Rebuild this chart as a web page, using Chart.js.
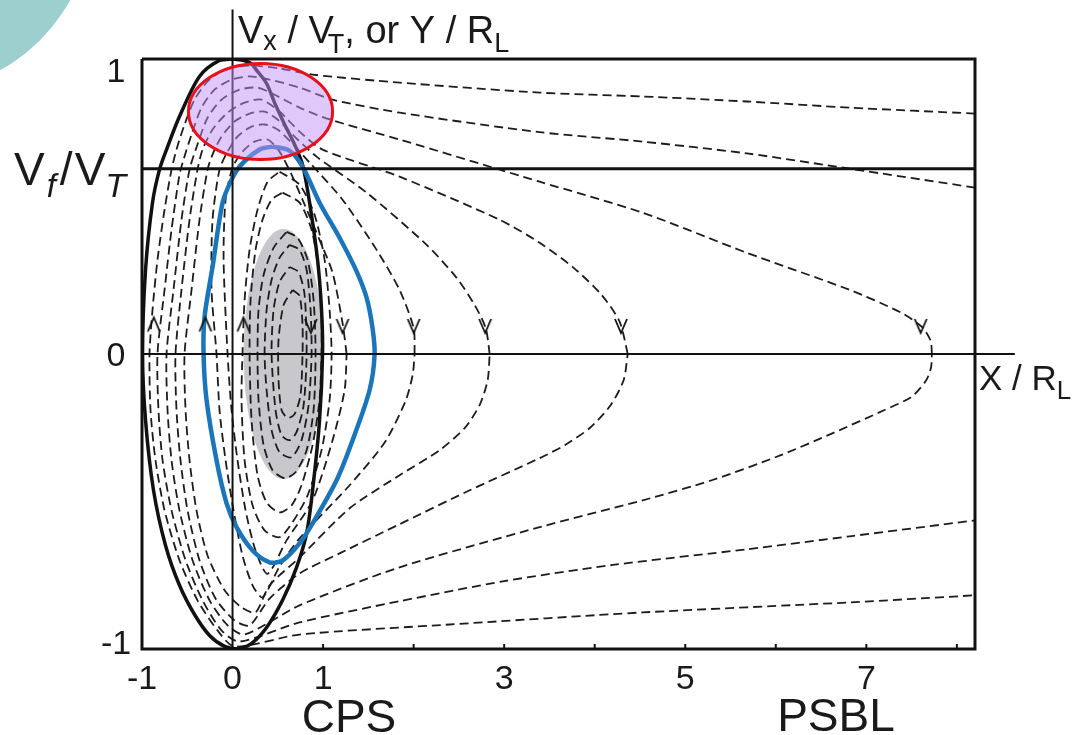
<!DOCTYPE html>
<html>
<head>
<meta charset="utf-8">
<script src="https://cdn.jsdelivr.net/npm/chart.js@4.4.0/dist/chart.umd.min.js"></script>
<style>
  html, body { margin: 0; padding: 0; background: #fff; }
  #wrap { width: 1080px; height: 735px; position: relative; }
</style>
</head>
<body>
<div id="wrap"><canvas id="orbits"></canvas></div>
<script>
// axis ranges: X / RL across, Vx / VT (or Y / RL) up
const xMin = -1, xMax = 8.2;
const yMin = -1, yMax = 1;
const vfLevel = 0.628;

const xTicks = [-1, 0, 1, 3, 5, 7];
const xMinorTicks = [1, 2, 3, 4, 5, 6, 7, 8];
const yTicks = [1, 0, -1];

// boundary of the CPS orbits
const blackCurve = [
  [0.022, 1.0], [0.188, 0.988], [0.276, 0.958], [0.376, 0.917], [0.464, 0.852], [0.575, 0.778],
  [0.685, 0.71], [0.773, 0.642], [0.851, 0.513], [0.939, 0.319], [0.983, 0.149], [0.994, 0],
  [0.961, -0.224], [0.884, -0.462], [0.818, -0.608], [0.707, -0.723], [0.552, -0.835],
  [0.376, -0.927], [0.21, -0.981], [0.055, -1.0], [-0.088, -0.991], [-0.254, -0.954],
  [-0.42, -0.883], [-0.586, -0.784], [-0.74, -0.649], [-0.873, -0.462], [-0.961, -0.224],
  [-0.994, 0], [-0.961, 0.285], [-0.884, 0.513], [-0.807, 0.625], [-0.729, 0.693],
  [-0.586, 0.805], [-0.365, 0.941], [-0.144, 0.995], [0.022, 1.0]
];

const blueCurve = [
  [0.442, 0.703], [0.63, 0.689], [0.773, 0.635], [0.961, 0.513], [1.182, 0.394], [1.37, 0.28],
  [1.481, 0.19], [1.545, 0.09], [1.569, 0], [1.514, -0.122], [1.326, -0.292], [1.149, -0.428],
  [0.884, -0.574], [0.74, -0.642], [0.552, -0.7], [0.409, -0.706], [0.221, -0.666],
  [0.044, -0.587], [-0.066, -0.506], [-0.177, -0.36], [-0.287, -0.156], [-0.32, 0],
  [-0.309, 0.126], [-0.221, 0.295], [-0.11, 0.513], [-0.011, 0.591], [0.077, 0.635],
  [0.188, 0.669], [0.32, 0.696], [0.442, 0.703]
];

// orbits leaving through the right edge (PSBL side)
const orbitA = [
  [8.2, 0.815], [6.818, 0.835], [5.68, 0.856], [4.53, 0.873], [3.392, 0.886], [1.845, 0.92],
  [0.884, 0.947], [0.519, 0.968], [0.188, 0.978], [-0.088, 0.964], [-0.276, 0.924],
  [-0.42, 0.862], [-0.53, 0.778], [-0.619, 0.693], [-0.674, 0.625], [-0.751, 0.489],
  [-0.829, 0.319], [-0.884, 0.149], [-0.917, 0], [-0.906, -0.19], [-0.851, -0.36],
  [-0.751, -0.53], [-0.586, -0.699], [-0.387, -0.835], [-0.166, -0.937], [0.022, -0.992],
  [0.74, -0.951], [2.398, -0.917], [4.53, -0.876], [6.818, -0.842], [8.2, -0.818]
];
const orbitB = [
  [8.2, 0.564], [6.818, 0.628], [5.68, 0.68], [4.53, 0.72], [3.392, 0.752], [1.845, 0.818],
  [1.105, 0.862], [0.74, 0.903], [0.409, 0.93], [0.188, 0.941], [-0.011, 0.93], [-0.199, 0.896],
  [-0.343, 0.835], [-0.453, 0.744], [-0.541, 0.659], [-0.586, 0.608], [-0.674, 0.421],
  [-0.751, 0.217], [-0.829, 0], [-0.818, -0.19], [-0.773, -0.36], [-0.674, -0.53],
  [-0.519, -0.699], [-0.331, -0.835], [-0.122, -0.937], [0.077, -0.975], [0.74, -0.91],
  [1.845, -0.838], [3.0, -0.77], [4.2, -0.715], [5.68, -0.662], [6.818, -0.618], [8.2, -0.564]
];

// closed orbits turning at X = 7.7, 4.4, 2.8, 2.0, 1.3
const orbitC = [
  [7.724, 0], [7.71, 0.045], [7.62, 0.09], [7.392, 0.139], [6.818, 0.217], [5.68, 0.343],
  [4.53, 0.479], [3.392, 0.584], [1.845, 0.727], [1.072, 0.795], [0.74, 0.835], [0.464, 0.879],
  [0.276, 0.903], [0.077, 0.896], [-0.122, 0.862], [-0.276, 0.801], [-0.387, 0.71],
  [-0.475, 0.625], [-0.564, 0.455], [-0.652, 0.217], [-0.729, 0], [-0.718, -0.19],
  [-0.674, -0.36], [-0.586, -0.53], [-0.442, -0.699], [-0.254, -0.835], [-0.055, -0.92],
  [0.133, -0.951], [0.74, -0.852], [1.845, -0.723], [3.392, -0.587], [4.53, -0.496],
  [5.293, -0.428], [6.055, -0.343], [6.63, -0.268], [7.2, -0.19], [7.5, -0.145],
  [7.66, -0.09], [7.715, -0.045], [7.724, 0]
];
const orbitD = [
  [4.365, 0], [4.276, 0.109], [4.077, 0.2], [3.768, 0.292], [3.392, 0.377], [2.95, 0.455],
  [1.845, 0.601], [0.994, 0.693], [0.74, 0.754], [0.519, 0.822], [0.32, 0.862], [0.133, 0.852],
  [-0.055, 0.818], [-0.221, 0.761], [-0.331, 0.693], [-0.387, 0.625], [-0.475, 0.455],
  [-0.564, 0.217], [-0.63, 0], [-0.619, -0.19], [-0.575, -0.36], [-0.497, -0.53],
  [-0.365, -0.699], [-0.188, -0.829], [0.022, -0.903], [0.188, -0.92], [0.409, -0.829],
  [0.74, -0.744], [1.182, -0.676], [1.845, -0.577], [2.619, -0.462], [3.392, -0.353],
  [3.669, -0.309], [3.945, -0.251], [4.177, -0.173], [4.32, -0.088], [4.365, 0]
];
const orbitE = [
  [2.84, 0], [2.796, 0.088], [2.674, 0.166], [2.475, 0.258], [2.144, 0.37], [1.481, 0.547],
  [0.928, 0.669], [0.685, 0.737], [0.497, 0.795], [0.354, 0.822], [0.188, 0.815], [0.022, 0.788],
  [-0.122, 0.737], [-0.221, 0.676], [-0.276, 0.625], [-0.365, 0.455], [-0.453, 0.217],
  [-0.53, 0], [-0.519, -0.19], [-0.475, -0.36], [-0.398, -0.53], [-0.276, -0.683],
  [-0.088, -0.801], [0.099, -0.859], [0.254, -0.876], [0.409, -0.784], [0.74, -0.69],
  [1.293, -0.523], [1.845, -0.411], [2.287, -0.326], [2.564, -0.251], [2.729, -0.173],
  [2.818, -0.088], [2.84, 0]
];
const orbitF = [
  [2.011, 0], [2.0, 0.088], [1.845, 0.217], [1.591, 0.353], [1.215, 0.523], [0.851, 0.649],
  [0.652, 0.716], [0.497, 0.761], [0.354, 0.778], [0.21, 0.771], [0.055, 0.737], [-0.055, 0.686],
  [-0.144, 0.625], [-0.221, 0.455], [-0.232, 0.217], [-0.177, 0], [-0.144, -0.19],
  [-0.077, -0.36], [0.011, -0.53], [0.11, -0.683], [0.221, -0.784], [0.331, -0.825],
  [0.52, -0.72], [0.74, -0.625], [1.293, -0.445], [1.68, -0.3], [1.91, -0.16], [1.99, -0.07],
  [2.011, 0]
];
const orbitG = [
  [1.26, 0], [1.215, 0.105], [1.105, 0.275], [0.961, 0.387], [0.796, 0.506], [0.652, 0.608],
  [0.519, 0.686], [0.387, 0.727], [0.243, 0.72], [0.11, 0.686], [0, 0.632], [-0.077, 0.523],
  [-0.099, 0.319], [-0.055, 0], [-0.011, -0.19], [0.055, -0.36], [0.144, -0.53],
  [0.254, -0.666], [0.387, -0.745], [0.6, -0.63], [0.884, -0.496], [1.105, -0.292],
  [1.238, -0.122], [1.26, 0]
];

// small trapped orbits around X = 0.55
const innerA = [
  [0.519, 0.618], [0.74, 0.574], [0.906, 0.472], [1.017, 0.319], [1.072, 0.149], [1.094, 0],
  [1.072, -0.156], [0.983, -0.326], [0.829, -0.479], [0.663, -0.57], [0.519, -0.621],
  [0.354, -0.598], [0.221, -0.513], [0.133, -0.36], [0.099, -0.156], [0.11, 0], [0.133, 0.183],
  [0.188, 0.353], [0.276, 0.489], [0.387, 0.584], [0.519, 0.618]
];
const innerB = [
  [0.552, 0.547], [0.74, 0.513], [0.873, 0.421], [0.95, 0.285], [0.983, 0.115], [0.983, 0],
  [0.961, -0.156], [0.884, -0.309], [0.762, -0.445], [0.652, -0.513], [0.519, -0.537],
  [0.376, -0.503], [0.276, -0.411], [0.21, -0.224], [0.188, 0], [0.199, 0.183], [0.254, 0.353],
  [0.331, 0.455], [0.431, 0.523], [0.552, 0.547]
];
const innerC = [
  [0.597, 0.414], [0.718, 0.394], [0.829, 0.319], [0.895, 0.183], [0.917, 0], [0.895, -0.19],
  [0.818, -0.326], [0.696, -0.401], [0.575, -0.421], [0.442, -0.394], [0.343, -0.309],
  [0.287, -0.156], [0.276, 0], [0.287, 0.149], [0.343, 0.268], [0.453, 0.36], [0.597, 0.414]
];
const innerD = [
  [0.63, 0.37], [0.74, 0.353], [0.818, 0.285], [0.862, 0.149], [0.873, 0], [0.84, -0.173],
  [0.762, -0.292], [0.652, -0.35], [0.519, -0.333], [0.431, -0.258], [0.376, -0.122],
  [0.354, 0], [0.376, 0.149], [0.431, 0.251], [0.519, 0.326], [0.63, 0.37]
];
const innerE = [
  [0.63, 0.295], [0.729, 0.278], [0.796, 0.2], [0.818, 0], [0.785, -0.173], [0.707, -0.265],
  [0.63, -0.292], [0.541, -0.275], [0.475, -0.19], [0.431, 0], [0.453, 0.149], [0.519, 0.244],
  [0.63, 0.295]
];
const innerF = [
  [0.663, 0.217], [0.74, 0.197], [0.773, 0.098], [0.773, 0], [0.751, -0.139], [0.685, -0.204],
  [0.608, -0.217], [0.541, -0.19], [0.508, -0.088], [0.508, 0.048], [0.564, 0.166], [0.663, 0.217]
];

const dashedOrbits = [orbitA, orbitB, orbitC, orbitD, orbitE, orbitF, orbitG,
  innerA, innerB, innerC, innerD, innerE, innerF];

// direction marks on the orbits
const arrowsUp = [[-0.87, 0.1], [-0.3, 0.1], [0.12, 0.1]];
const arrowsDown = [[0.865, 0.095], [1.215, 0.095], [2.0, 0.095], [2.79, 0.095], [4.29, 0.095], [7.6, 0.095]];

// shaded regions: centre and half-axes in data units
const grayRegion = { x: 0.564, y: 0, rx: 0.442, ry: 0.424 };
const pinkRegion = { x: 0.309, y: 0.822, rx: 0.796, ry: 0.163 };

const fontFamily = '"Liberation Sans", Arial, sans-serif';

function toPoints(arr) {
  return arr.map(function (p) { return { x: p[0], y: p[1] }; });
}

function chevron(up) {
  const c = document.createElement('canvas');
  c.width = 16;
  c.height = 20;
  const g = c.getContext('2d');
  g.strokeStyle = '#111';
  g.lineWidth = 1.8;
  g.beginPath();
  if (up) {
    g.moveTo(2, 17); g.lineTo(8, 3); g.lineTo(14, 17);
  } else {
    g.moveTo(2, 3); g.lineTo(8, 17); g.lineTo(14, 3);
  }
  g.stroke();
  return c;
}

function solidLine(points, width, order) {
  return {
    data: toPoints(points),
    showLine: true,
    borderColor: '#111',
    borderWidth: width,
    pointRadius: 0,
    tension: 0,
    fill: false,
    clip: false,
    order: order
  };
}

const datasets = [];

dashedOrbits.forEach(function (orbit) {
  datasets.push({
    data: toPoints(orbit),
    showLine: true,
    borderColor: '#1c1c1c',
    borderWidth: 1.8,
    borderDash: [9, 5],
    pointRadius: 0,
    tension: 0.25,
    fill: false,
    order: 6
  });
});

datasets.push({
  data: toPoints(blackCurve),
  showLine: true,
  borderColor: '#111',
  borderWidth: 3.5,
  pointRadius: 0,
  tension: 0.3,
  fill: false,
  order: 4
});

datasets.push({
  data: toPoints(blueCurve),
  showLine: true,
  borderColor: '#1b75bb',
  borderWidth: 4.5,
  pointRadius: 0,
  tension: 0.3,
  fill: false,
  order: 3
});

// frame, Vf / VT level and the two axes
datasets.push(solidLine([[xMin, yMax], [xMax, yMax], [xMax, yMin], [xMin, yMin], [xMin, yMax]], 3, 2));
datasets.push(solidLine([[xMin, vfLevel], [xMax, vfLevel]], 3, 2));
datasets.push(solidLine([[0, yMin], [0, 1.168]], 2, 2));
datasets.push(solidLine([[xMin, 0], [8.64, 0]], 2, 2));

datasets.push({
  data: toPoints(arrowsUp),
  showLine: false,
  pointStyle: chevron(true),
  pointRadius: 6,
  order: 1
});
datasets.push({
  data: toPoints(arrowsDown),
  showLine: false,
  pointStyle: chevron(false),
  pointRadius: 6,
  order: 1
});

function drawRuns(ctx, x, y, runs) {
  runs.forEach(function (r) {
    const text = r[0], size = r[1], dy = r[2], italic = r[3], dx = r[4] || 0;
    ctx.font = (italic ? 'italic ' : '') + size + 'px ' + fontFamily;
    x += dx;
    ctx.fillText(text, x, y + dy);
    x += ctx.measureText(text).width;
  });
}

function ellipse(chart, region) {
  const xs = chart.scales.x, ys = chart.scales.y;
  const cx = xs.getPixelForValue(region.x);
  const cy = ys.getPixelForValue(region.y);
  const rx = Math.abs(xs.getPixelForValue(region.x + region.rx) - cx);
  const ry = Math.abs(ys.getPixelForValue(region.y + region.ry) - cy);
  const ctx = chart.ctx;
  ctx.beginPath();
  ctx.ellipse(cx, cy, rx, ry, 0, 0, Math.PI * 2);
}

const decorations = {
  id: 'decorations',
  beforeDraw(chart) {
    const ctx = chart.ctx;
    ctx.save();
    ctx.fillStyle = '#9dcfcf';
    ctx.beginPath();
    ctx.arc(-85, -85, 177, 0, Math.PI * 2);
    ctx.fill();
    ctx.restore();
  },
  beforeDatasetsDraw(chart) {
    const ctx = chart.ctx;
    ctx.save();
    ellipse(chart, grayRegion);
    ctx.fillStyle = '#c8c8cc';
    ctx.fill();
    ctx.restore();
  },
  afterDatasetsDraw(chart) {
    const ctx = chart.ctx;
    ctx.save();
    ellipse(chart, pinkRegion);
    ctx.fillStyle = 'rgba(193, 145, 245, 0.5)';
    ctx.fill();
    ctx.lineWidth = 3;
    ctx.strokeStyle = '#e8101a';
    ctx.stroke();
    ctx.restore();
  },
  afterDraw(chart) {
    const ctx = chart.ctx;
    const xs = chart.scales.x, ys = chart.scales.y;
    const area = chart.chartArea;
    ctx.save();
    ctx.fillStyle = '#1a1a1a';
    ctx.strokeStyle = '#111';

    // minor ticks along the bottom edge
    ctx.lineWidth = 2;
    xMinorTicks.forEach(function (v) {
      const px = xs.getPixelForValue(v);
      ctx.beginPath();
      ctx.moveTo(px, area.bottom);
      ctx.lineTo(px, area.bottom - 5);
      ctx.stroke();
    });

    ctx.font = '34px ' + fontFamily;
    ctx.textAlign = 'center';
    ctx.textBaseline = 'alphabetic';
    xTicks.forEach(function (v) {
      ctx.fillText(String(v), xs.getPixelForValue(v), 689);
    });
    yTicks.forEach(function (v) {
      let py = ys.getPixelForValue(v);
      py = Math.min(Math.max(py, area.top + 11), area.bottom - 7);
      ctx.fillText(String(v), 116, py + 12);
    });

    ctx.font = '46px ' + fontFamily;
    ctx.fillText('CPS', 349, 732);
    ctx.fillText('PSBL', 836, 731);

    ctx.textAlign = 'left';
    drawRuns(ctx, 238, 43, [
      ['V', 38, 0], ['x', 27, 7], [' / V', 38, 0], ['T', 27, 10, false, -6],
      [', or Y / R', 38, 0], ['L', 27, 9]
    ]);

    const vfY = ys.getPixelForValue(vfLevel);
    drawRuns(ctx, 14, vfY + 16, [
      ['V', 46, 0], ['f', 33, 12, true, 2], ['/', 46, 0, false, 4], ['V', 46, 0, false, 2],
      ['T', 34, 12, true, 0]
    ]);

    const zeroY = ys.getPixelForValue(0);
    drawRuns(ctx, 979, zeroY + 36, [['X / R', 35, 0], ['L', 26, 9]]);
    ctx.restore();
  }
};

new Chart(document.getElementById('orbits'), {
  type: 'scatter',
  data: { datasets: datasets },
  options: {
    responsive: true,
    maintainAspectRatio: false,
    animation: false,
    events: [],
    layout: { padding: { left: 142, right: 105, top: 59, bottom: 86 } },
    plugins: { legend: { display: false }, tooltip: { enabled: false } },
    scales: {
      x: { type: 'linear', min: xMin, max: xMax, display: false },
      y: { type: 'linear', min: yMin, max: yMax, display: false }
    }
  },
  plugins: [decorations]
});
</script>
</body>
</html>
